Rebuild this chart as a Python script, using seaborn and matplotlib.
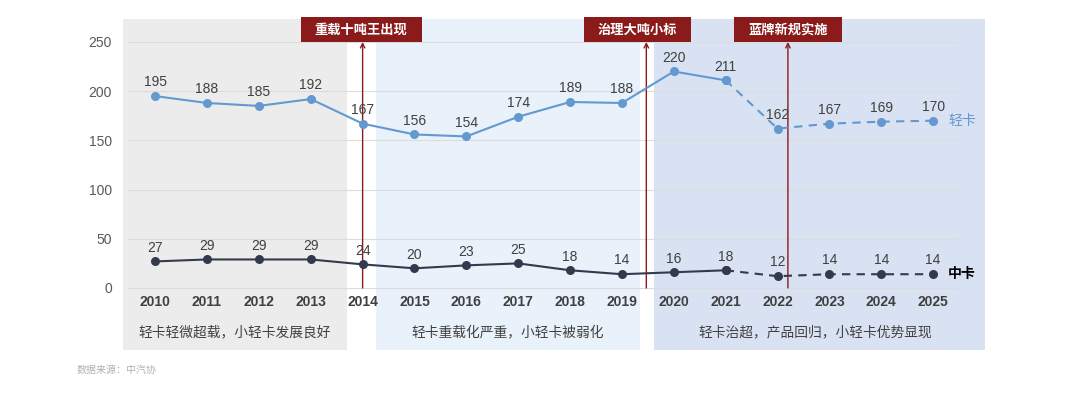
import numpy as np
import pandas as pd
import matplotlib.pyplot as plt
import matplotlib.patches as mpatches
import seaborn as sns

# ------------------
# Data
# ------------------
years = list(range(2010, 2026))
light_truck = [195, 188, 185, 192, 167, 156, 154, 174, 189, 188, 220, 211, 162, 167, 169, 170]
medium_truck = [27, 29, 29, 29, 24, 20, 23, 25, 18, 14, 16, 18, 12, 14, 14, 14]
last_actual = 2021

phase_labels = ['轻卡轻微超载，小轻卡发展良好', '轻卡重载化严重，小轻卡被弱化',
                '轻卡治超，产品回归，小轻卡优势显现']
phase_start = [2009.38, 2014.26, 2019.62]
phase_end = [2013.70, 2019.35, 2026.0]
phase_text_x = [2011.54, 2016.79, 2022.72]

event_labels = ['重载十吨王出现', '治理大吨小标', '蓝牌新规实施']
event_x = [2014.0, 2019.47, 2022.2]
event_box_x = [2013.97, 2019.30, 2022.2]

# ------------------
# Style
# ------------------
sns.set_theme(style='white')
plt.rcParams['font.family'] = ['Liberation Sans', 'Noto Sans CJK SC', 'DejaVu Sans']
cjk = ['Noto Sans CJK SC', 'DejaVu Sans']

c_light = '#6399d0'
c_medium = '#333a4d'
c_red = '#8b1a1a'
c_txt = '#404040'
phase_colors = ['#ececec', '#e9f1fa', '#d9e2f2']

fig = plt.figure(figsize=(10.8, 3.95), dpi=100)
ax = fig.add_axes([123 / 1080, 1 - 350 / 395, 862 / 1080, 335 / 395])
ax.set_xlim(2009.38, 2026.0)
ax.set_ylim(-63.0, 277.4)

# Phase backgrounds and texts
for lab, x0, x1, xt, col in zip(phase_labels, phase_start, phase_end,
                                phase_text_x, phase_colors):
    ax.add_patch(mpatches.Rectangle((x0, -63), x1 - x0, 336, color=col,
                                    lw=0, zorder=0))
    ax.text(xt, -44.7, lab, ha='center', va='center', fontsize=9.9,
            color=c_txt, family=cjk)

# Gridlines
ax.hlines(np.arange(0, 251, 50), 2009.48, 2025.46, color='#dcdcdc', lw=0.8,
          zorder=1)

# Long-form data
df = pd.DataFrame({
    'year': years * 2,
    'value': light_truck + medium_truck,
    'series': ['轻卡'] * len(years) + ['中卡'] * len(years),
})
pal = {'轻卡': c_light, '中卡': c_medium}
actual = df[df['year'] <= last_actual]
forecast = df[df['year'] >= last_actual]
sns.lineplot(data=actual, x='year', y='value', hue='series', palette=pal,
             marker='o', markersize=6.5, markeredgewidth=0, lw=1.5,
             legend=False, ax=ax, zorder=3)
sns.lineplot(data=forecast, x='year', y='value', hue='series', palette=pal,
             marker='o', markersize=6.5, markeredgewidth=0, lw=1.5,
             linestyle=(0, (4, 3)), legend=False, ax=ax, zorder=3)

# Data labels
for vals in (light_truck, medium_truck):
    for x, v in zip(years, vals):
        ax.annotate(str(v), (x, v), xytext=(0, 7), textcoords='offset points',
                    ha='center', va='baseline', fontsize=10, color=c_txt,
                    zorder=4)

# Year labels
for x in years:
    ax.text(x, -14.2, str(x), ha='center', va='center', fontsize=10,
            fontweight='bold', color=c_txt)

# Series names
ax.text(2025.29, light_truck[-1], '轻卡', ha='left', va='center',
        fontsize=10, color=c_light, family=cjk)
ax.text(2025.29, medium_truck[-1], '中卡', ha='left', va='center',
        fontsize=10, color='black', fontweight='bold', family=cjk)

# Event markers
for lab, x, xb in zip(event_labels, event_x, event_box_x):
    ax.annotate('', xy=(x, 250), xytext=(x, 0),
                arrowprops=dict(arrowstyle='->', color=c_red, lw=1,
                                shrinkA=0, shrinkB=0, mutation_scale=8),
                zorder=2)
    w = (len(lab) * 13 + 30) / 51.87
    ax.add_patch(mpatches.Rectangle((xb - w / 2, 250), w, 25.4, color=c_red,
                                    lw=0, zorder=5, clip_on=False))
    ax.text(xb, 262.7, lab, ha='center', va='center', fontsize=9.5,
            fontweight='bold', color='white', family=cjk, zorder=6)

# Axes
ax.set_yticks(np.arange(0, 251, 50))
ax.set_xticks([])
ax.tick_params(axis='y', length=0, pad=8, labelsize=10, labelcolor='#595959')
ax.set_xlabel('')
ax.set_ylabel('')
for s in ax.spines.values():
    s.set_visible(False)

fig.text(77 / 1080, 1 - 370 / 395, '数据来源：中汽协', fontsize=7.2,
         color='#b0b0b0', family=cjk, va='center')

fig.savefig('out.png', dpi=100)
plt.close('all')
